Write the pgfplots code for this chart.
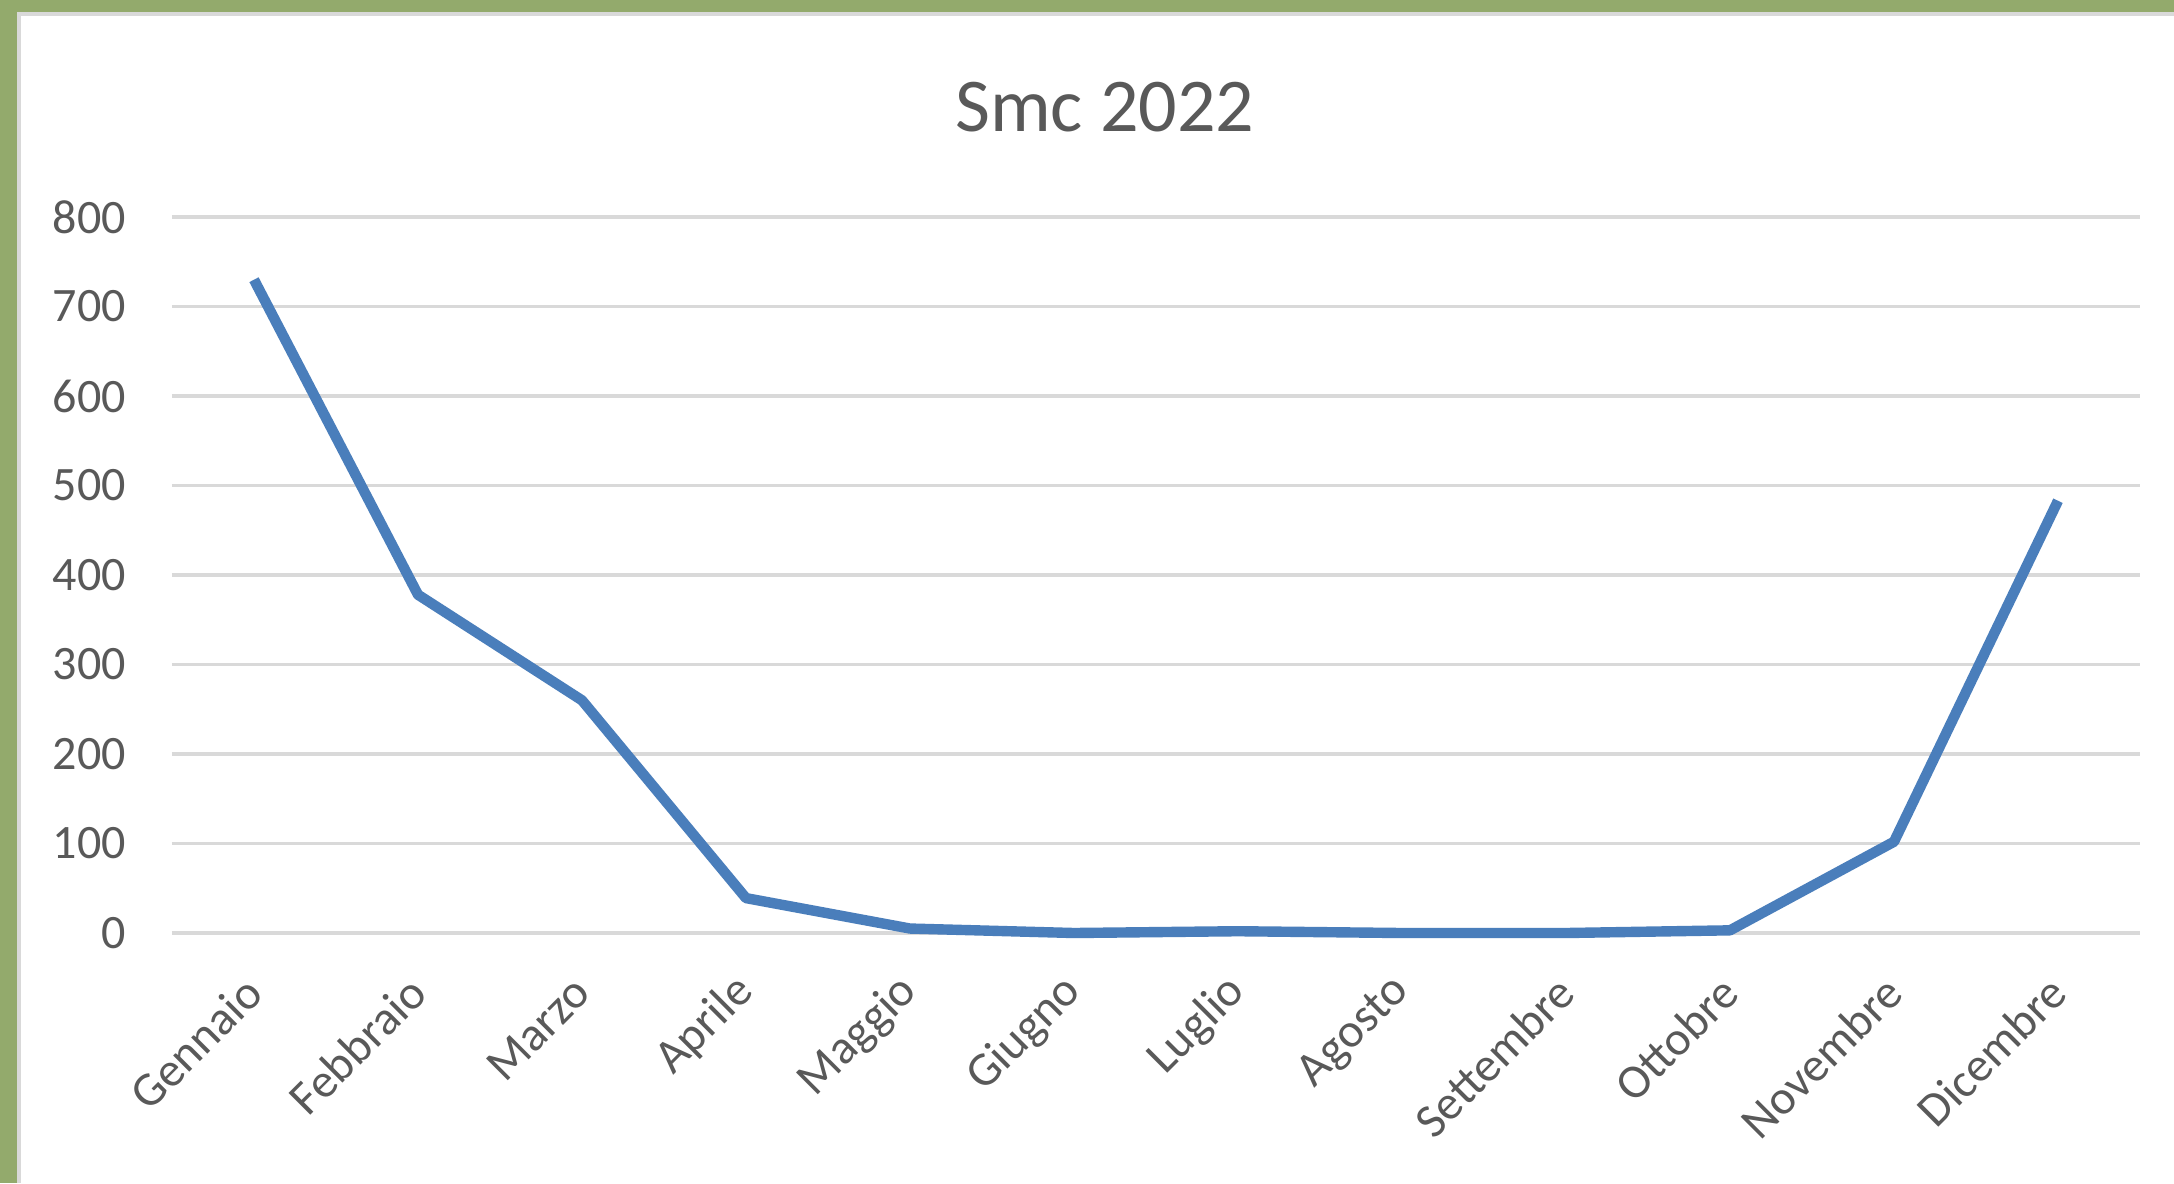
\documentclass[border=0pt]{standalone}
\usepackage{pgfplots}
\pgfplotsset{compat=1.18}
\usepackage{fontspec}
\setmainfont{Carlito}
\definecolor{framegreen}{HTML}{93AA6C}
\definecolor{txtgray}{HTML}{595959}
\definecolor{gridgray}{HTML}{D9D9D9}
\definecolor{lineblue}{HTML}{4A7EBB}
\begin{document}
\begin{tikzpicture}[x=0.25pt,y=0.25pt]
\useasboundingbox (0,0) rectangle (2174,1183);
\fill[framegreen] (0,0) rectangle (2174,1183);
\fill[white] (18,0) rectangle (2174,1170);
\draw[gridgray, line width=0.8pt] (19,0) -- (19,1169) -- (2174,1169);
\begin{axis}[
  at={(43pt,62.5pt)}, anchor=south west,
  scale only axis, width=492pt, height=179pt,
  xmin=-0.5, xmax=11.5, ymin=0, ymax=800,
  axis line style={draw=none},
  major tick length=0pt,
  xtick={0,...,11},
  xticklabels={Gennaio,Febbraio,Marzo,Aprile,Maggio,Giugno,Luglio,Agosto,Settembre,Ottobre,Novembre,Dicembre},
  ytick={0,100,...,800},
  ymajorgrids, grid style={gridgray, line width=0.9pt},
  tick label style={font=\fontsize{12}{14}\selectfont, text=txtgray},
  xticklabel style={xshift=2.5pt, yshift=-10.5pt, rotate=45, anchor=east},
  yticklabel style={xshift=-8pt},
  /pgf/number format/assume math mode=true,
  title={Smc 2022},
  title style={at={(axis description cs:0.474,1.12)}, anchor=center, font=\fontsize{19}{22}\selectfont, text=txtgray},
  clip=false,
]
\addplot[lineblue, line width=2.6pt, line join=round] coordinates {
(0,730) (1,378) (2,260) (3,39) (4,5) (5,0) (6,2) (7,0) (8,0) (9,3) (10,102) (11,483)
};
\end{axis}
\end{tikzpicture}
\end{document}
